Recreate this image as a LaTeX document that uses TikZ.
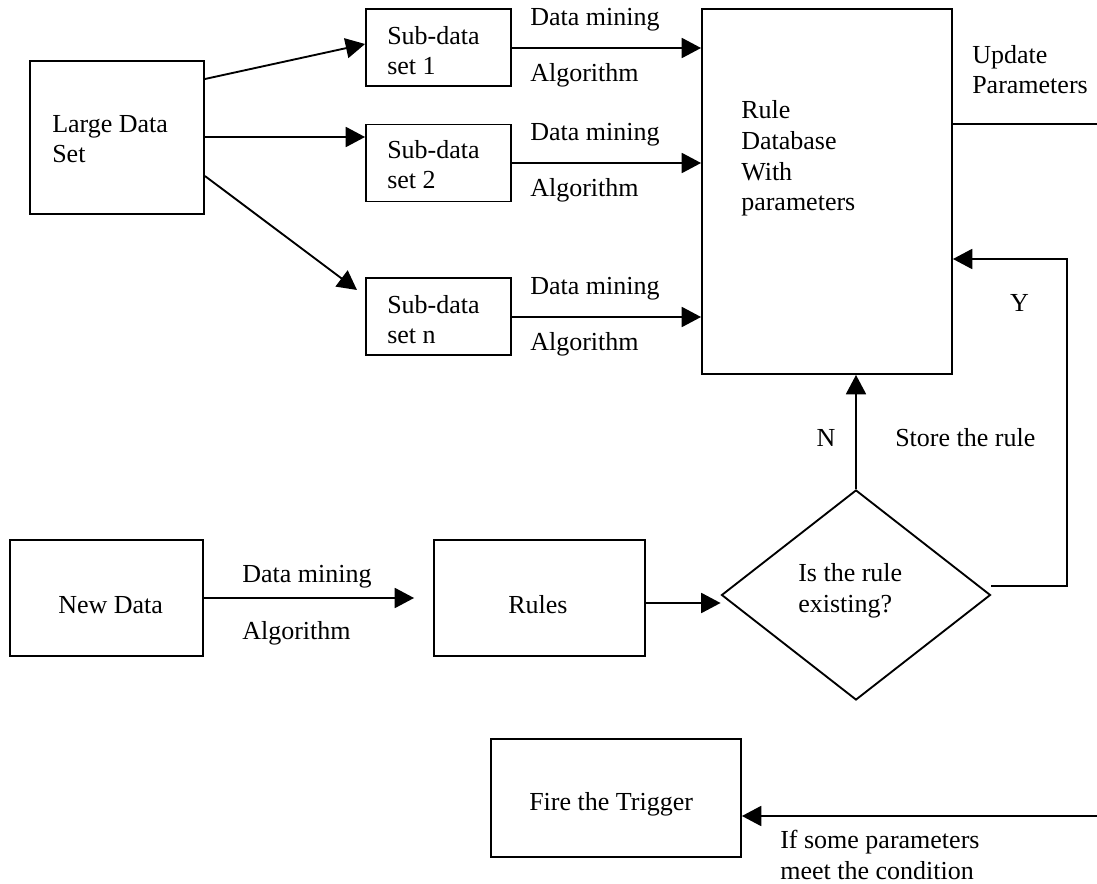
\documentclass[tikz,border=0pt]{standalone}
\usepackage{fontspec}
\setmainfont{Liberation Serif}
\usetikzlibrary{arrows.meta,shapes.geometric}
\begin{document}
\begin{tikzpicture}[x=0.75pt,y=-0.75pt,
  box/.style={draw, line width=1.4pt, inner sep=0pt},
  subbox/.style={box, minimum width=108.75pt, minimum height=57.75pt},
  lbl/.style={font=\fontsize{19.5}{23}\selectfont, inner sep=0pt, align=left, anchor=base west},
  flow/.style={line width=1.4pt, -{Triangle[length=14.5pt,width=15pt]}},
  wire/.style={line width=1.4pt}]
\useasboundingbox (0,0) rectangle (1097,884);

% shapes
\node[box,minimum width=130.5pt,minimum height=114.75pt] (large) at (117,137.5) {};
\node[subbox] (sub1) at (438.5,47.5) {};
\node[subbox] (sub2) at (438.5,163) {};
\node[subbox] (subn) at (438.5,316.5) {};
\node[box,minimum width=187.5pt,minimum height=273.75pt] (rule) at (827,191.5) {};
\node[box,minimum width=144.75pt,minimum height=87pt] (newdata) at (106.5,598) {};
\node[box,minimum width=158.25pt,minimum height=87pt] (rules) at (539.5,598) {};
\node[box,diamond,minimum width=201.75pt,minimum height=157.5pt] (dia) at (856,595) {};
\node[box,minimum width=187.5pt,minimum height=88.5pt] (fire) at (616,798) {};

% texts inside the shapes (multi-line nodes sit on the baseline of their last line)
\node[lbl] (large-t) at (52,163) {Large Data\\Set};
\node[lbl] (sub1-t) at (387,75) {Sub-data\\set 1};
\node[lbl] (sub2-t) at (387,189) {Sub-data\\set 2};
\node[lbl] (subn-t) at (387,344) {Sub-data\\set n};
\node[lbl] (rule-t) at (741,211) {Rule\\Database\\With\\parameters};
\node[lbl] (newdata-t) at (58,613) {New Data};
\node[lbl] (rules-t) at (508,613) {Rules};
\node[lbl] (dia-t) at (798,612) {Is the rule\\existing?};
\node[lbl] (fire-t) at (529,810) {Fire the Trigger};

% connector labels
\node[lbl] (dm1) at (530,26) {Data mining};
\node[lbl] (al1) at (530,82) {Algorithm};
\node[lbl] (dm2) at (530,141) {Data mining};
\node[lbl] (al2) at (530,197) {Algorithm};
\node[lbl] (dm3) at (530,295) {Data mining};
\node[lbl] (al3) at (530,351) {Algorithm};
\node[lbl] (dm4) at (242,582) {Data mining};
\node[lbl] (al4) at (242,639) {Algorithm};
\node[lbl] (upd) at (972,94) {Update\\Parameters};
\node[lbl,anchor=base] (ylab) at (1019.5,312) {Y};
\node[lbl,anchor=base] (nlab) at (826,447) {N};
\node[lbl] (store) at (895,447) {Store the rule};
\node[lbl] (cond) at (780,879) {If some parameters\\meet the condition};

% free ends and bends
\coordinate (subnin) at (357,290);
\coordinate (updend) at (1097,124);
\coordinate (yturn) at (1067,259);
\coordinate (trigsrc) at (1097,816);

% connectors
\draw[flow] (large.east |- 0,79) -- (sub1.west |- 0,44);
\draw[flow] (large.east |- 0,137) -- (sub2.west |- 0,137);
\draw[flow] (large.east |- 0,176) -- (subnin);
\draw[flow] (sub1.east |- 0,48) -- (rule.west |- 0,48);
\draw[flow] (sub2.east |- 0,163) -- (rule.west |- 0,163);
\draw[flow] (subn.east |- 0,317) -- (rule.west |- 0,317);
\draw[wire] (rule.east |- 0,124) -- (updend);
\draw[flow] ([yshift=7pt]dia.east) -| (yturn) -- (rule.east |- yturn);
\draw[flow] (dia.north) -- (dia.north |- rule.south);
\draw[flow] (newdata.east |- 0,598) -- ([xshift=-14.25pt]rules.west);
\draw[flow] (rules.east |- 0,603) -- (dia.west |- 0,603);
\draw[flow] (trigsrc) -- (fire.east |- trigsrc);
\end{tikzpicture}
\end{document}
